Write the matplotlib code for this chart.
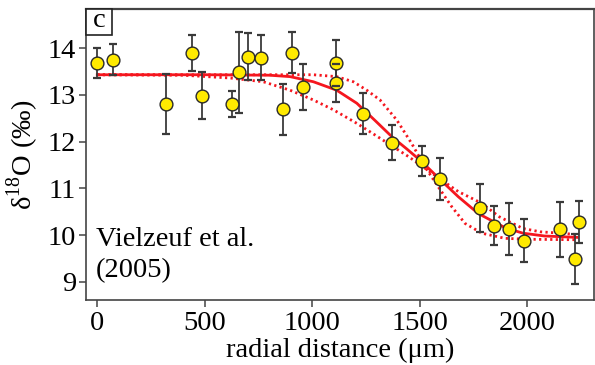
import matplotlib
matplotlib.use("Agg")
import matplotlib.pyplot as plt
from matplotlib.patches import Rectangle

plt.rcParams['font.family'] = ['Liberation Serif', 'DejaVu Serif']
plt.rcParams['mathtext.fontset'] = 'custom'
plt.rcParams['mathtext.rm'] = 'Liberation Serif'
plt.rcParams['font.size'] = 20.5

# measured garnet profile: radial distance (um), d18O (permil), 1-sigma error
dist = [0, 72, 320, 440, 489, 626, 660, 703, 761, 864, 905, 957, 1109, 1109,
        1236, 1371, 1509, 1594, 1780, 1847, 1917, 1985, 2153, 2222, 2240]
d18o = [13.69, 13.75, 12.81, 13.90, 12.98, 12.80, 13.48, 13.82, 13.79, 12.69,
        13.90, 13.17, 13.68, 13.25, 12.60, 11.98, 11.59, 11.20, 10.58, 10.20,
        10.13, 9.88, 10.12, 9.49, 10.28]
err = [0.32, 0.33, 0.64, 0.38, 0.50, 0.28, 0.86, 0.50, 0.48, 0.55, 0.44, 0.50,
       0.50, 0.40, 0.44, 0.38, 0.32, 0.44, 0.52, 0.42, 0.56, 0.46, 0.59, 0.54, 0.45]

# diffusion model: best fit and the two bounding profiles
fit_x = [0, 500, 800, 896, 1005, 1113, 1207, 1292, 1371, 1440, 1509, 1594,
         1679, 1772, 1850, 1900, 1980, 2080, 2232]
fit_y = [13.43, 13.43, 13.42, 13.39, 13.28, 13.10, 12.82, 12.45, 12.10, 11.84,
         11.57, 11.19, 10.82, 10.46, 10.27, 10.15, 10.04, 9.98, 9.95]

narrow_x = [0, 900, 1005, 1113, 1191, 1253, 1315, 1393, 1462, 1524, 1586,
            1648, 1710, 1788, 1896, 2000, 2232]
narrow_y = [13.43, 13.43, 13.43, 13.39, 13.28, 13.10, 12.89, 12.46, 11.96,
            11.46, 11.03, 10.61, 10.25, 10.04, 9.93, 9.91, 9.90]

wide_x = [0, 400, 618, 772, 896, 1005, 1098, 1207, 1292, 1447, 1530, 1594,
          1679, 1788, 1870, 1980, 2060, 2153, 2232]
wide_y = [13.43, 13.42, 13.36, 13.28, 13.10, 12.89, 12.68, 12.39, 12.14, 11.68,
          11.41, 11.20, 10.93, 10.68, 10.39, 10.14, 10.07, 10.04, 10.01]

red = '#f5161e'
fig = plt.figure(figsize=(5.95, 3.65), dpi=100)
ax = fig.add_axes([0.1445, 0.178, 0.8538, 0.7965])

ax.plot(fit_x, fit_y, color=red, lw=2.0, zorder=2)
ax.plot(narrow_x, narrow_y, color=red, lw=2.0, ls=(0, (0.8, 1.2)), zorder=2)
ax.plot(wide_x, wide_y, color=red, lw=2.0, ls=(0, (0.8, 1.2)), zorder=2)

eb = ax.errorbar(dist, d18o, yerr=err, fmt='none', ecolor='#3a3a3a',
                 elinewidth=1.3, capsize=2.8, capthick=1.6, zorder=3)
for cap in eb[1]:
    cap.set_color('#b0501c')
    cap.set_zorder(5)
ax.plot(dist, d18o, 'o', ms=9.2, mfc='#ffea00', mec='#2a2a2a', mew=1.0,
        zorder=4)

ax.set_xlim(-52.6, 2310)
ax.set_ylim(8.61, 14.83)
ax.set_xticks([0, 500, 1000, 1500, 2000])
ax.set_yticks([9, 10, 11, 12, 13, 14])
ax.tick_params(colors='#444444', labelcolor='black', length=5, width=1.1,
               pad=2)
ax.tick_params(axis='x', pad=3)
for s in ax.spines.values():
    s.set_color('#444444')
    s.set_linewidth(1.2)
ax.spines['top'].set_linewidth(1.6)

ax.set_xlabel('radial distance (μm)', labelpad=1)
ax.set_ylabel(r'δ$^{18}$O (‰)', labelpad=5)

ax.text(0.02, 0.185, 'Vielzeuf et al.', transform=ax.transAxes,
        ha='left', va='baseline')
ax.text(0.02, 0.08, '(2005)', transform=ax.transAxes,
        ha='left', va='baseline')

# panel letter in a small box
bw, bh = 26 / 508, 26 / 290.7
ax.add_patch(Rectangle((0, 1 - bh), bw, bh, transform=ax.transAxes,
                       fc='white', ec='#222222', lw=1.2, zorder=6,
                       clip_on=False))
ax.text(bw / 2, 1 - bh / 2 + 0.005, 'c', transform=ax.transAxes,
        ha='center', va='center', zorder=7)

fig.savefig('out.png', dpi=100)
